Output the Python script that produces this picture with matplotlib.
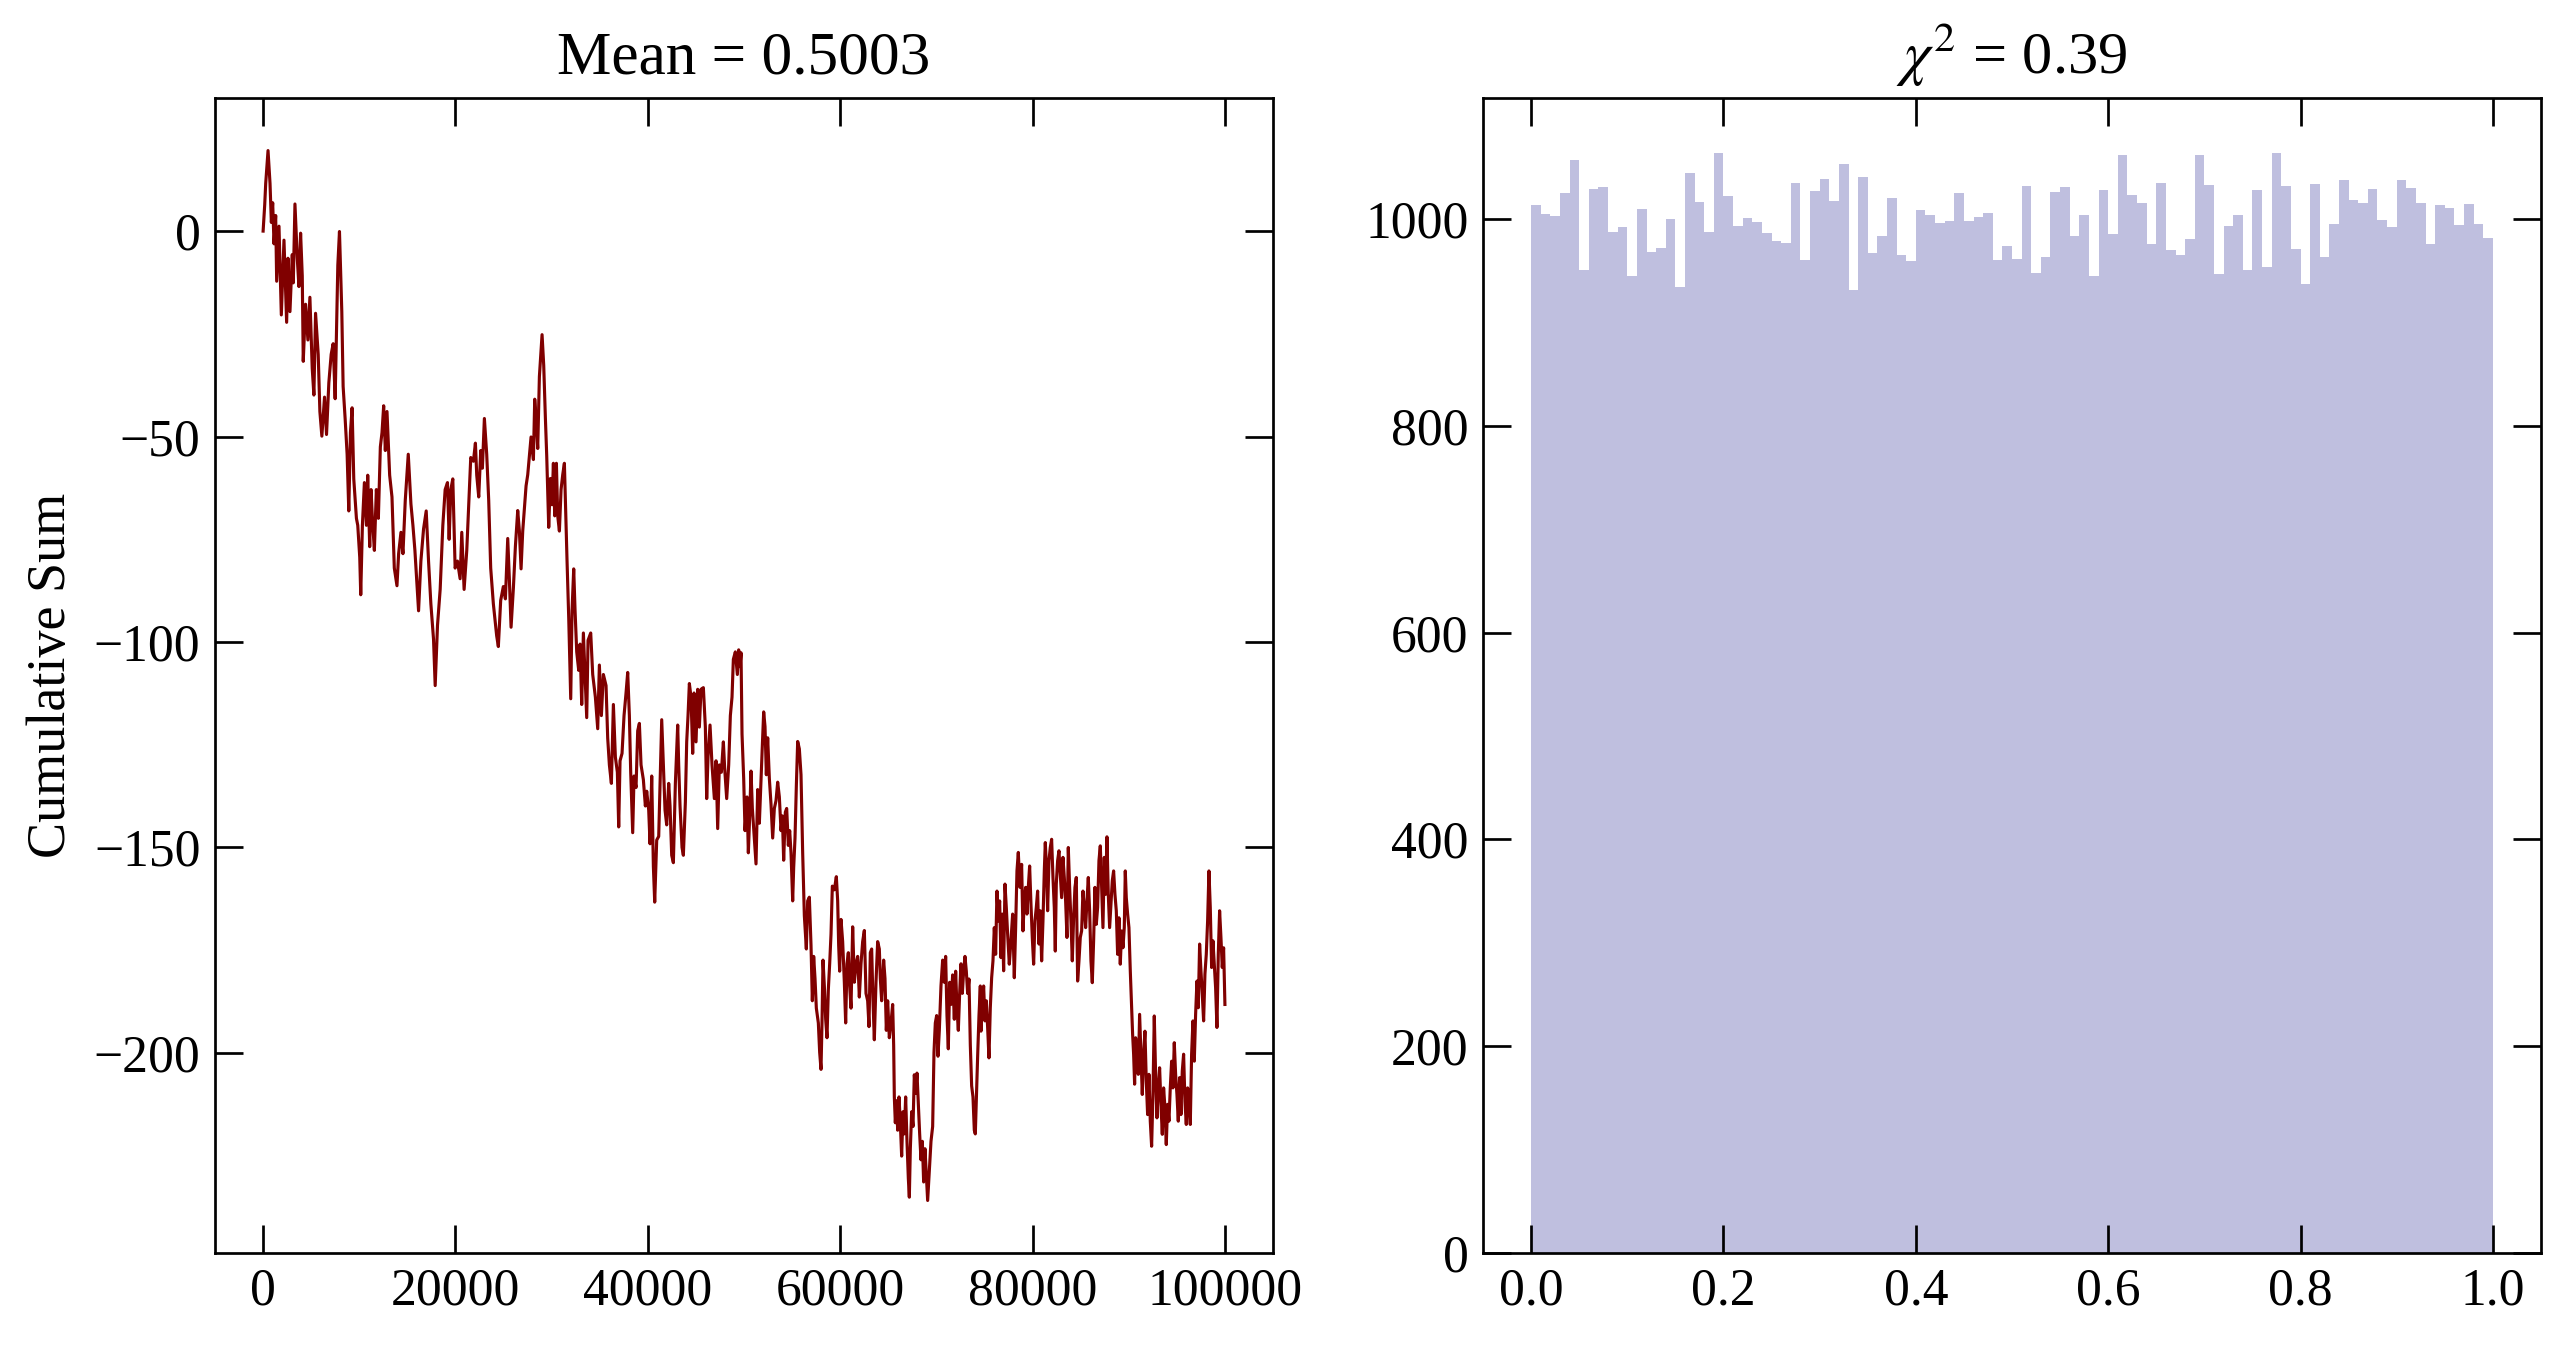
import numpy as np
import matplotlib
matplotlib.use("Agg")
import matplotlib.pyplot as plt

## style ##
plt.rcParams['font.family'] = ['Liberation Serif', 'DejaVu Serif']
plt.rcParams['mathtext.fontset'] = 'stix'
plt.rcParams['xtick.direction'] = 'in'
plt.rcParams['ytick.direction'] = 'in'
plt.rcParams['xtick.top'] = True
plt.rcParams['ytick.right'] = True

## data ##

# cumulative sum of the random walk (step, value) - traced turning points
walk_steps = [
    0, 166, 269, 511, 718, 857, 995, 1133, 1306, 1409, 1651, 1893, 2169, 2446, 2584,
    2791, 3033, 3137, 3310, 3551, 3724, 3897, 4070, 4173, 4415, 4657, 4864, 5106, 5279,
    5452, 5728, 5901, 6108, 6385, 6592, 6834, 7076, 7283, 7490, 7767, 7939, 8181, 8319,
    8527, 8734, 8907, 9080, 9252, 9425, 9701, 9840, 10047, 10150, 10323, 10530, 10738,
    10876, 11083, 11221, 11360, 11567, 11774, 11982, 12189, 12362, 12534, 12707, 12880,
    13156, 13398, 13640, 13917, 14089, 14331, 14539, 14780, 15091, 15368, 15575, 15782,
    16162, 16404, 16680, 16957, 17199, 17441, 17717, 17890, 18132, 18408, 18685, 18927,
    19169, 19342, 19515, 19722, 19964, 20206, 20482, 20655, 20897, 21174, 21346, 21588,
    21865, 22072, 22210, 22418, 22625, 22798, 23005, 23247, 23454, 23662, 23938, 24284,
    24457, 24699, 24975,
    25190, 25433, 25606, 25779, 26022, 26230, 26472, 26645, 26819, 26992, 27165, 27339,
    27512, 27685, 27858, 28101, 28239, 28378, 28551, 28724, 29002, 29175, 29348, 29487,
    29695, 29868, 30041, 30180, 30318, 30492, 30630, 30804, 30977, 31150, 31323, 31427,
    31600, 31774, 31982, 32120, 32293, 32432, 32605, 32813, 32952, 33125, 33298, 33437,
    33645, 33783, 34060, 34268, 34545, 34788, 34961, 35169, 35377, 35654, 35827, 36001,
    36209, 36417, 36624, 36832, 36971, 37109, 37317, 37525, 37733, 37906, 38080, 38218,
    38426, 38565, 38773, 38946, 39120, 39293, 39535, 39743, 39882, 40090, 40228, 40402,
    40575, 40714, 40922, 41130, 41268, 41442, 41615, 41788, 41961, 42169, 42307, 42481,
    42654, 42862, 43104, 43208, 43347, 43555, 43693, 43901, 44040, 44178, 44317, 44490,
    44663, 44802, 45010, 45183, 45357, 45530, 45772, 45980, 46119, 46257, 46465, 46673,
    46916, 47089, 47262, 47436, 47644, 47852, 47990, 48198, 48406, 48579, 48752, 48891,
    49099, 49307, 49445, 49584,
    49688, 49792, 49965, 50104, 50312, 50450, 50589, 50727, 50866, 51074, 51247, 51420,
    51594, 51767, 51906, 52044, 52183, 52321, 52460, 52633, 52807, 52980, 53153, 53326,
    53500, 53673, 53846, 53985, 54123, 54296, 54435, 54608, 54747, 54886, 55059, 55163,
    55301, 55440, 55579, 55752, 55925, 56098, 56272, 56479, 56618, 56791, 56965, 57103,
    57242, 57381, 57519, 57727, 57866, 58004, 58108, 58212, 58351, 58489, 58628, 58766,
    58905, 59044, 59182, 59390, 59598, 59737, 59840, 59944, 60083, 60256, 60430, 60568,
    60707, 60845, 60984, 61123, 61296, 61469, 61642, 61816, 61989, 62162, 62335, 62509,
    62682, 62855, 62994, 63132, 63271, 63409, 63548, 63721, 63895, 64068, 64172, 64310,
    64518, 64657, 64795, 64934, 65107, 65280, 65454, 65558, 65627, 65731, 65870, 65974,
    66112, 66251, 66389, 66528, 66667, 66805, 66944, 67083, 67187, 67291, 67429, 67568,
    67706, 67845, 67983, 68122, 68261, 68399, 68538, 68676, 68815, 68953, 69092, 69265,
    69439, 69612, 69750, 69889, 70028, 70166, 70305, 70478, 70651, 70825, 70963, 71102,
    71240, 71379, 71518, 71691, 71864, 72003, 72141, 72280, 72419, 72557, 72696, 72835,
    72973, 73112, 73250, 73389, 73528, 73666, 73805, 73943, 74047, 74151, 74290, 74429,
    74567,
    74636, 74809, 74913, 75052, 75190, 75329, 75468, 75606, 75745, 75883, 76022, 76161,
    76299, 76438, 76576, 76715, 76854, 76992, 77131, 77270, 77408, 77581, 77755, 77928,
    78101, 78240, 78378, 78517, 78690, 78863, 79002, 79141, 79279, 79418, 79556, 79695,
    79834, 79972, 80111, 80249, 80388, 80527, 80665, 80804, 80943, 81081, 81220, 81324,
    81462, 81566, 81705, 81843, 81982, 82121, 82259, 82363, 82467, 82606, 82744, 82883,
    83022, 83160, 83299, 83437, 83576, 83715, 83853, 83992, 84130, 84269, 84408, 84546,
    84685, 84824, 84962, 85101, 85239, 85378, 85517, 85655, 85794, 85933, 86071, 86210,
    86348, 86487, 86626, 86764, 86903, 87042, 87180, 87319, 87457, 87596, 87734, 87873,
    88012, 88150, 88289, 88427, 88566, 88705, 88843, 88982, 89120, 89259, 89398, 89536,
    89640, 89744, 89883, 90021, 90160, 90299, 90403, 90507, 90610, 90714, 90853, 90991,
    91130, 91269, 91407, 91546, 91684, 91823, 91962, 92100, 92239, 92378, 92516, 92655,
    92794, 92932, 93071, 93209, 93348, 93487, 93625, 93764, 93902, 94041, 94180, 94318,
    94457, 94595, 94734, 94873, 95011, 95150, 95289, 95427, 95566, 95704, 95843, 95982,
    96120, 96259, 96398, 96536, 96675, 96814, 96952, 97091, 97229, 97368, 97507, 97645,
    97784, 97922, 98061, 98200, 98338, 98477, 98616, 98754, 98893, 99031, 99170, 99309,
    99447, 99586, 99724, 99863, 99999,
]
walk_values = [
    0.0, 6.4, 11.6, 19.6, 11.6, 2.1, 6.9, -3.1, 3.8, -12.2, 1.2, -20.4, -2.2, -22.2, -6.6,
    -19.6, -5.7, -12.6, 6.6, -6.6, -13.5, -0.5, -10.9, -31.7, -17.8, -26.5, -16.1, -33.4, -39.9,
    -20.0, -30.0, -43.9, -49.9, -40.4, -49.5, -36.9, -30.0, -27.4, -40.8, -8.3, -0.1, -19.6, -37.8,
    -45.6, -54.3, -68.1, -49.0, -43.0, -60.3, -69.9, -71.6, -79.4, -88.5, -71.6, -61.2, -71.6,
    -59.4, -76.8, -62.9, -69.9, -77.7, -62.9, -69.9, -52.5, -49.0, -42.5, -53.4, -43.9,
    -59.4, -64.7, -82.0, -86.3, -78.5, -73.3, -78.5, -65.5, -54.3, -66.4, -71.6, -77.7,
    -92.4, -80.3, -72.5, -68.1, -80.3, -90.7, -99.3, -110.6, -95.9, -87.2, -71.6, -62.9,
    -61.2, -75.0, -62.9, -60.3, -82.0, -80.3, -84.6, -73.3, -87.2, -77.7, -68.1, -55.1,
    -56.0, -51.6, -59.4, -64.7, -53.4, -57.7, -45.6, -54.3, -65.5, -82.0, -90.7, -98.5,
    -101.1, -89.9, -86.5,
    -89.5, -74.8, -84.9, -96.4, -86.8, -76.7, -68.0, -73.0, -82.2, -73.0, -67.5, -62.0,
    -59.3, -54.7, -50.1, -55.6, -40.9, -45.5, -52.9, -35.4, -25.2, -32.7, -45.5, -54.7,
    -72.1, -60.2, -66.6, -56.5, -69.3, -56.5, -69.3, -73.0, -62.9, -59.3, -56.5, -65.7,
    -80.3, -94.1, -113.8, -92.3, -82.2, -92.3, -102.4, -106.9, -100.5, -115.2, -97.8, -106.0,
    -118.4, -99.6, -97.8, -107.9, -113.4, -121.1, -105.6, -117.9, -107.9, -110.6, -123.4, -129.9,
    -134.4, -115.2, -128.0, -131.7, -145.0, -128.9, -127.1, -117.9, -112.4, -107.4, -117.9, -131.7,
    -146.4, -132.6, -135.4, -121.6, -119.8, -129.9, -133.5, -139.9, -136.3, -140.9, -149.1, -132.6,
    -154.6, -163.3, -148.2, -147.3, -134.4, -118.9, -129.9, -140.9, -144.5, -134.4, -139.9, -151.9,
    -153.7, -134.4, -120.2, -129.9, -139.9, -150.0, -151.9, -139.0, -124.3, -117.9, -110.1, -113.4,
    -127.1, -112.4, -124.3, -111.5, -120.7, -111.5, -111.1, -120.7, -138.1, -128.0, -120.2, -129.9,
    -138.1, -128.9, -145.4, -129.9, -131.7, -124.3, -130.8, -138.1, -129.9, -117.9, -113.4, -104.2,
    -102.4, -107.9, -101.9, -106.0,
    -102.6, -122.4, -133.2, -145.9, -137.7, -151.3, -142.3, -131.4, -140.5, -147.7, -154.0, -135.9,
    -144.1, -133.2, -125.1, -117.0, -120.6, -132.3, -123.3, -133.2, -139.5, -147.7, -140.5, -138.6,
    -134.1, -137.7, -145.9, -142.3, -153.1, -141.4, -140.5, -149.5, -145.9, -151.3, -163.0, -154.9,
    -147.7, -135.0, -124.2, -126.0, -132.3, -151.3, -166.6, -174.7, -163.0, -162.1, -173.8, -187.3,
    -176.5, -181.9, -189.1, -192.7, -199.9, -204.0, -192.7, -177.4, -183.7, -191.8, -196.3, -184.6,
    -178.3, -171.1, -159.4, -160.3, -157.1, -163.0, -173.8, -180.1, -167.5, -172.9, -182.8, -192.7,
    -178.3, -175.6, -183.7, -189.1, -169.3, -182.8, -178.3, -176.5, -186.4, -178.3, -172.9, -170.2,
    -185.5, -187.3, -193.6, -175.6, -174.7, -187.3, -196.8, -182.8, -172.9, -174.7, -181.9, -187.3,
    -177.4, -181.9, -194.5, -187.3, -196.3, -192.7, -188.2, -198.1, -210.7, -217.0, -211.6, -218.8,
    -210.7, -217.0, -225.1, -214.3, -219.7, -210.7, -221.5, -230.5, -235.1, -223.3, -214.3, -217.9,
    -205.3, -209.8, -204.9, -212.5, -219.7, -226.0, -221.5, -231.4, -223.3, -229.6, -235.9, -228.7,
    -221.5, -217.9, -199.9, -192.7, -190.9, -200.8, -194.5, -183.7, -177.4, -182.8, -176.5, -190.9,
    -199.0, -182.8, -188.2, -181.0, -191.8, -180.1, -189.1, -194.5, -185.5, -178.3, -185.5, -180.1,
    -176.5, -180.1, -185.5, -182.0, -198.1, -208.0, -210.7, -218.8, -219.7, -211.6, -200.8, -190.9,
    -183.7,
    -194.7, -187.3, -183.7, -192.2, -187.3, -193.8, -201.2, -189.0, -181.7, -177.6, -169.5, -176.0,
    -160.6, -167.9, -163.0, -176.8, -166.2, -180.0, -158.9, -164.6, -171.1, -178.4, -172.7, -166.2,
    -181.7, -169.5, -155.7, -151.2, -159.7, -154.1, -170.3, -163.0, -159.7, -166.2, -159.7, -154.5,
    -163.8, -171.9, -178.4, -167.9, -164.6, -160.6, -173.5, -165.4, -177.6, -167.9, -155.7, -148.8,
    -155.7, -165.4, -153.2, -150.0, -148.0, -157.3, -164.6, -175.2, -158.9, -153.2, -150.8, -156.5,
    -162.2, -152.4, -157.3, -163.0, -171.9, -150.0, -159.7, -167.9, -177.6, -167.1, -159.7, -157.3,
    -182.5, -177.6, -171.9, -170.3, -160.6, -164.6, -169.5, -163.0, -157.3, -165.4, -177.6, -182.9,
    -172.7, -159.7, -168.7, -164.6, -153.2, -149.6, -159.7, -169.5, -152.4, -161.4, -147.4, -161.4,
    -169.5, -163.8, -158.1, -155.7, -161.4, -165.4, -176.0, -167.1, -178.4, -170.3, -174.4, -169.5,
    -155.7, -162.2, -166.2, -169.5, -180.0, -189.0, -195.5, -200.3, -207.6, -196.3, -200.3, -205.2,
    -190.6, -200.3, -210.1, -200.3, -194.7, -206.8, -215.0, -205.2, -216.6, -222.7, -210.1, -191.0,
    -205.2, -215.8, -208.5, -203.6, -212.5, -219.8, -208.5, -213.3, -222.3, -212.5, -216.6, -208.5,
    -202.0, -208.5, -197.5, -205.2, -210.1, -216.6, -206.0, -215.0, -204.4, -200.3, -211.7, -217.4,
    -208.5, -211.7, -217.4, -200.3, -192.2, -202.0, -190.6, -182.5, -189.0, -173.5, -180.0, -185.7,
    -192.2, -180.8, -176.0, -167.9, -155.7, -164.6, -179.2, -172.7, -178.4, -184.1, -193.8, -176.0,
    -165.4, -171.9, -179.2, -174.4, -188.2,
]

# histogram of the uniform draws: 100 bins on [0, 1]
bin_edges = np.linspace(0.0, 1.0, 101)
bin_counts = [
    1014, 1005, 1003, 1025, 1057, 951, 1029, 1031, 988, 992,
    945, 1010, 968, 972, 1000, 934, 1045, 1017, 988, 1064,
    1022, 993, 1001, 997, 987, 979, 977, 1035, 961, 1027,
    1039, 1018, 1053, 932, 1041, 967, 984, 1021, 965, 960,
    1009, 1004, 996, 998, 1025, 998, 1002, 1006, 961, 974,
    962, 1032, 948, 963, 1026, 1031, 984, 1004, 945, 1028,
    986, 1062, 1023, 1016, 976, 1035, 970, 965, 981, 1062,
    1033, 947, 993, 1004, 951, 1028, 954, 1064, 1032, 971,
    937, 1034, 963, 995, 1038, 1019, 1016, 1029, 999, 992,
    1038, 1030, 1016, 976, 1014, 1011, 994, 1015, 995, 982,
]

mean_title = 'Mean = 0.5003'
chi_title = r'$\chi^2$ = 0.39'

## figure ##

fig, (ax1, ax2) = plt.subplots(1, 2, figsize=(2569/300, 1347/300), dpi=300)
fig.subplots_adjust(left=0.0837, right=0.9891, bottom=0.0698, top=0.9272, wspace=0.1985)

# left: cumulative sum
ax1.plot(walk_steps, walk_values, color='#800000', lw=0.75)
ax1.set_title(mean_title, fontsize=14.7)
ax1.set_ylabel('Cumulative Sum', fontsize=13)

# right: histogram
centers = 0.5*(bin_edges[:-1] + bin_edges[1:])
ax2.hist(centers, bins=bin_edges, weights=bin_counts, histtype='stepfilled',
         color='navy', alpha=0.25, edgecolor='none')
ax2.set_title(chi_title, fontsize=14.5)

for ax in (ax1, ax2):
    ax.tick_params(which='major', length=6.7, width=0.65, labelsize=12.4)
    ax.tick_params(which='minor', length=0)
    for s in ax.spines.values():
        s.set_linewidth(0.65)

plt.savefig('out.png', dpi=300)
plt.close()
